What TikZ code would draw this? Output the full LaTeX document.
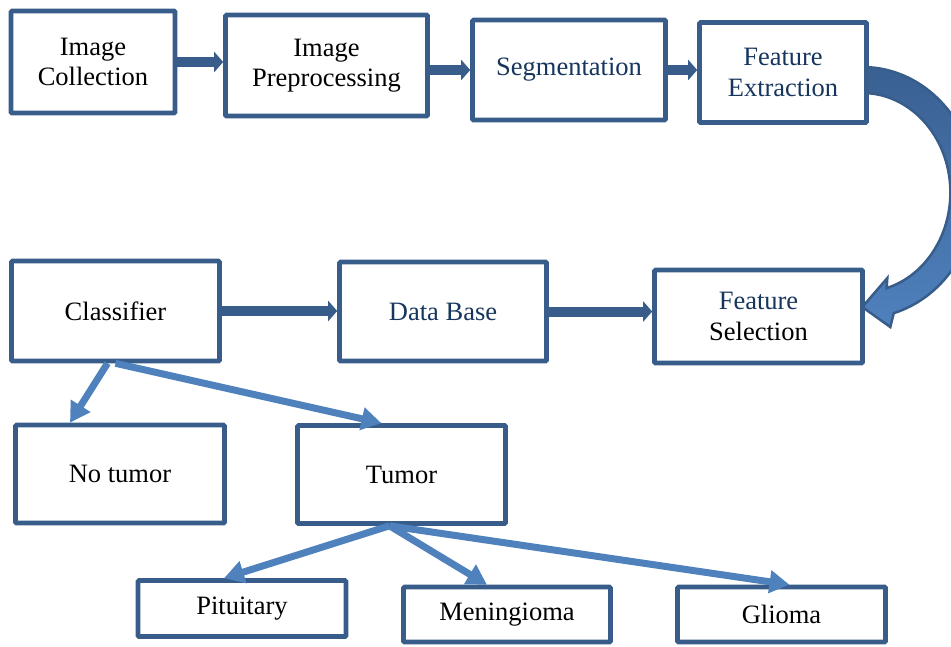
\documentclass[tikz,border=0pt]{standalone}
\usepackage{fontspec}
\setmainfont{Liberation Serif}
\usetikzlibrary{arrows.meta, calc, backgrounds}
\definecolor{boxline}{RGB}{56,93,138}
\definecolor{navytext}{RGB}{23,54,93}
\definecolor{lightarrow}{RGB}{79,129,189}
\definecolor{bendtop}{RGB}{58,96,146}

\begin{document}
\begin{tikzpicture}[x=1pt,y=1pt,yscale=-1,
    font=\fontsize{26.5}{30.5}\selectfont,
    box/.style={draw=boxline, line width=4.6pt, fill=white, rounded corners=1pt, inner sep=0pt, align=center},
    flowarrow/.style={draw=boxline, line width=10pt, -{Triangle[length=9pt,width=20pt]}},
    branch/.style={draw=lightarrow, line width=7pt, -{Triangle[length=20pt,width=22pt]}},
    bendarrow/.style={draw=boxline, line width=2.5pt, top color=bendtop, bottom color=lightarrow}]
        \useasboundingbox (0,0) rectangle (951,646);

        %Shape: Boxes, top row
        \node[box, minimum width=164, minimum height=102] (imgcol) at (93,62) {Image\\Collection};
        \node[box, minimum width=202, minimum height=101] (preproc) at (326.5,65.5) {Image\\Preprocessing};
        \node[box, minimum width=193, minimum height=100, text=navytext] (segment) at (569,70) {Segmentation};
        \node[box, minimum width=167, minimum height=100, text=navytext] (featext) at (783,72.5) {Feature\\Extraction};

        %Shape: Boxes, middle row
        \node[box, minimum width=208, minimum height=100] (classifier) at (115.5,311) {Classifier};
        \node[box, minimum width=207, minimum height=99, text=navytext] (database) at (443,311.5) {Data Base};
        \node[box, minimum width=208, minimum height=93] (featsel) at (758.5,316.5) {{\color{navytext}Feature}\\Selection};

        %Shape: Boxes, result rows
        \node[box, minimum width=209, minimum height=98] (notumor) at (120,474) {No tumor};
        \node[box, minimum width=208, minimum height=98] (tumor) at (401.5,474.5) {Tumor};
        \node[box, minimum width=208, minimum height=56] (pituitary) at (242,608.5) {Pituitary};
        \node[box, minimum width=207, minimum height=55] (mening) at (507,614.5) {Meningioma};
        \node[box, minimum width=208, minimum height=55] (glioma) at (781.5,614.5) {Glioma};

        %Shape: Curved Arrow (behind the boxes)
        \begin{scope}[on background layer]
        \draw[bendarrow] ($(featext.east)+(-6.5,-5.5)$) arc[start angle=-90, end angle=74, x radius=114, y radius=125.5] -- ++(-3.4,13.9) -- ++(-28,-20) -- ++(25,-29) -- ++(-0.7,10.1) arc[start angle=74, end angle=-90, x radius=88, y radius=99.5] -- cycle ;
        \end{scope}

        %Straight Lines [flow]
        \draw[flowarrow] (imgcol.east) -- (imgcol.east -| preproc.west);
        \draw[flowarrow] (preproc.east |- segment.west) -- (segment.west);
        \draw[flowarrow] (segment.east) -- (segment.east -| featext.west);
        \draw[flowarrow] (classifier.east) -- (classifier.east -| database.west);
        \draw[flowarrow] (database.east) -- (database.east -| featsel.west);

        %Straight Lines [branches]
        \draw[branch] ([xshift=-8pt]classifier.south) -- ([xshift=-50pt]notumor.north);
        \draw[branch] (classifier.south) -- ([xshift=-20pt]tumor.north);
        \draw[branch] ([xshift=-12pt]tumor.south) -- ([xshift=-18pt]pituitary.north);
        \draw[branch] ([xshift=-12pt]tumor.south) -- ([xshift=-20pt]mening.north);
        \draw[branch] ([xshift=-12pt]tumor.south) -- ([xshift=8pt]glioma.north);

\end{tikzpicture}
\end{document}
